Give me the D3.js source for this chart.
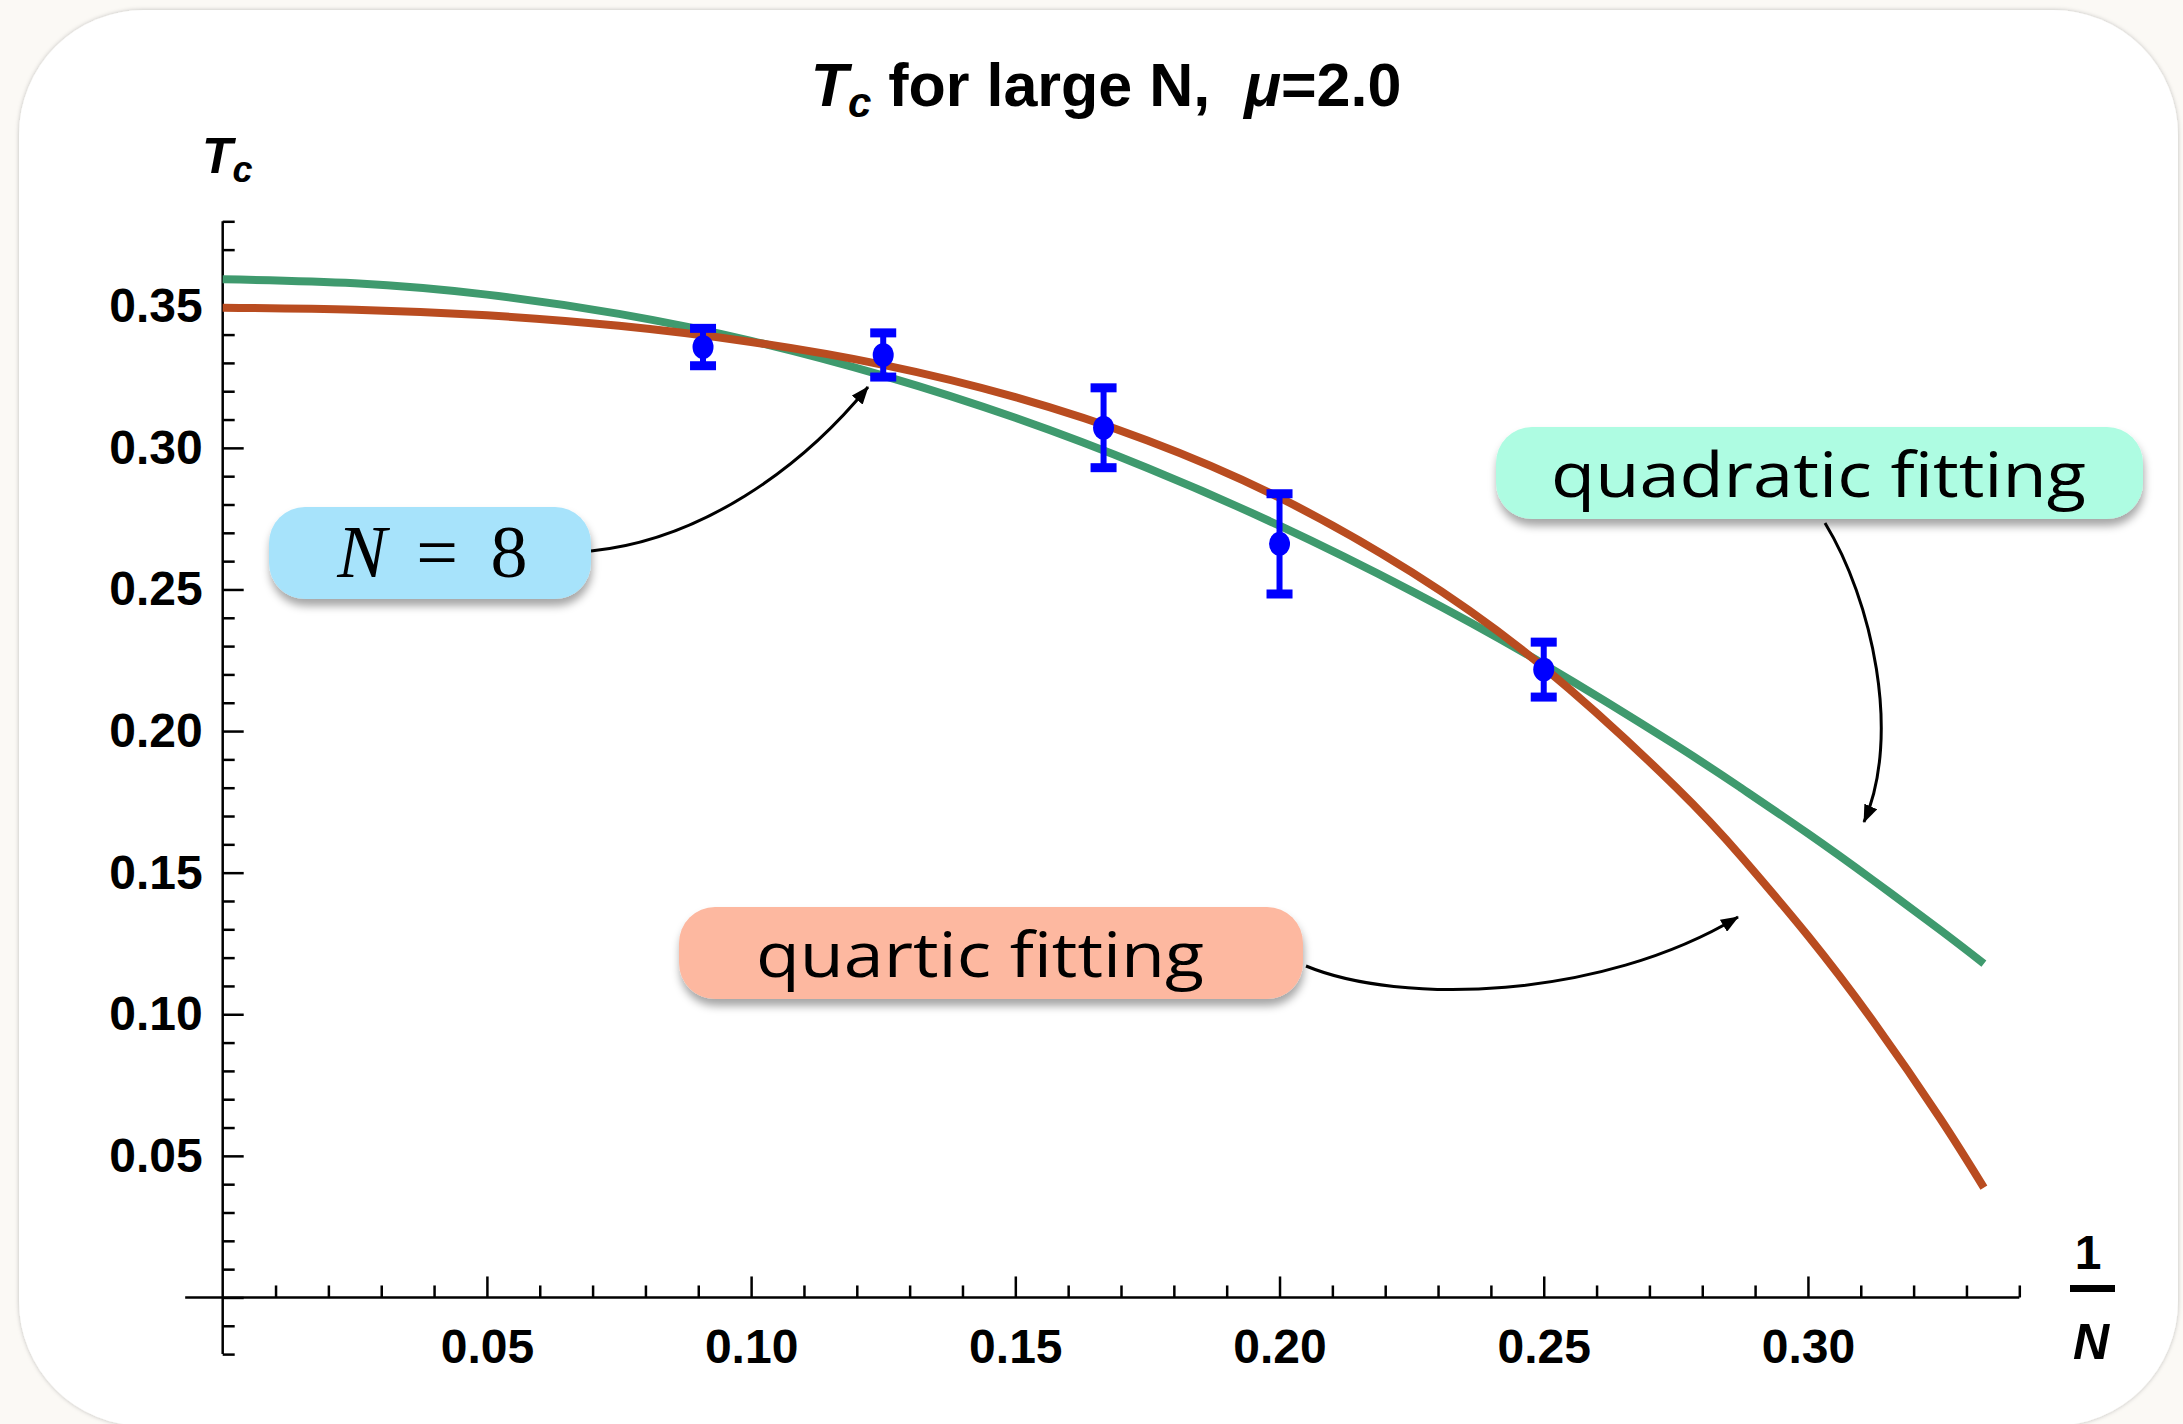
<!DOCTYPE html>
<html>
<head>
<meta charset="utf-8">
<script src="https://cdn.jsdelivr.net/npm/d3@7"></script>
<style>
  body { margin: 0; background: #fbf9f5; }
  svg { display: block; }
</style>
</head>
<body>
<div class="chart"></div>
<script>
const W = 2183;
const H = 1424;

// data points (x = 1/N for N = 11, 8, 6, 5, 4)
const invN = [0.0909, 0.125, 0.1667, 0.2, 0.25];
const tcVals = [0.3356, 0.3328, 0.3071, 0.2661, 0.2217];
const tcErr = [0.0066, 0.0078, 0.0141, 0.0177, 0.0097];

// fitted curves
const fitX = [0, 0.025, 0.05, 0.075, 0.1, 0.125, 0.15, 0.175, 0.2, 0.225, 0.25, 0.275, 0.2875, 0.3, 0.3125, 0.325, 0.3333];
const quadFit = [0.3595, 0.3581, 0.3541, 0.3473, 0.3378, 0.3255, 0.3106, 0.2929, 0.2725, 0.2494, 0.2236, 0.1950, 0.1797, 0.1638, 0.1471, 0.1298, 0.1179];
const quartFit = [0.3495, 0.3488, 0.3468, 0.3431, 0.3374, 0.3293, 0.3179, 0.3026, 0.2824, 0.2561, 0.2225, 0.1802, 0.1554, 0.1277, 0.0971, 0.0633, 0.0388];

const xMajor = [0.05, 0.10, 0.15, 0.20, 0.25, 0.30];
const yMajor = [0, 0.05, 0.10, 0.15, 0.20, 0.25, 0.30, 0.35];

const green = '#3f9a6e';
const orange = '#b94c20';

const svg = d3.select('.chart').append('svg')
    .attr('width', W)
    .attr('height', H)

const defs = svg.append('defs')

const panelShadow = defs.append('filter').attr('id', 'panelShadow')
    .attr('x', '-5%').attr('y', '-5%').attr('width', '110%').attr('height', '110%')
panelShadow.append('feDropShadow')
    .attr('dx', 0).attr('dy', 0).attr('stdDeviation', 2)
    .attr('flood-color', '#000').attr('flood-opacity', 0.25)

const boxShadow = defs.append('filter').attr('id', 'boxShadow')
    .attr('x', '-10%').attr('y', '-20%').attr('width', '120%').attr('height', '150%')
boxShadow.append('feDropShadow')
    .attr('dx', 1).attr('dy', 7).attr('stdDeviation', 4)
    .attr('flood-color', '#000').attr('flood-opacity', 0.35)

defs.append('marker')
    .attr('id', 'head')
    .attr('viewBox', '0 0 18 14')
    .attr('refX', 17).attr('refY', 7)
    .attr('markerWidth', 18).attr('markerHeight', 14)
    .attr('markerUnits', 'userSpaceOnUse')
    .attr('orient', 'auto')
    .append('path')
    .attr('d', 'M0,0 L18,7 L0,14 Z')
    .attr('fill', '#000')

// white rounded panel
svg.append('rect')
    .attr('x', 19).attr('y', 10)
    .attr('width', 2159).attr('height', 1416)
    .attr('rx', 125)
    .attr('fill', '#fff')
    .attr('filter', 'url(#panelShadow)')

// scales
const xScale = d3.scaleLinear()
    .domain([0, 0.34])
    .range([222.7, 2019.3])

const yScale = d3.scaleLinear()
    .domain([-0.02, 0.38])
    .range([1354.1, 221.3])

const fontBold = 'Liberation Sans, Arial, Helvetica, sans-serif';

// y axis
const yAxisG = svg.append('g').attr('transform', 'translate(' + xScale(0) + ',0)')
yAxisG.append('line')
    .attr('y1', yScale(-0.02)).attr('y2', yScale(0.38))
    .attr('stroke', '#000').attr('stroke-width', 2.5)

const yMinorTicks = d3.range(-2, 39).map(d => d / 100).filter(d => Math.round(d * 100) % 5 !== 0)
yAxisG.append('g')
    .call(d3.axisLeft(yScale).tickValues(yMinorTicks).tickSizeInner(-12).tickSizeOuter(0).tickFormat(''))
    .call(g => g.select('.domain').remove())
    .call(g => g.selectAll('line').attr('stroke-width', 2.5))

yAxisG.append('g')
    .call(d3.axisLeft(yScale).tickValues(yMajor).tickSizeInner(-21).tickSizeOuter(0).tickPadding(20)
        .tickFormat(d => d === 0 ? '' : d3.format('.2f')(d)))
    .call(g => g.select('.domain').remove())
    .call(g => g.selectAll('line').attr('stroke-width', 2.5))
    .call(g => g.selectAll('text')
        .attr('font-family', fontBold).attr('font-weight', 'bold').attr('font-size', 48).attr('fill', '#000'))

// x axis
const xAxisG = svg.append('g').attr('transform', 'translate(0,' + yScale(0) + ')')
xAxisG.append('line')
    .attr('x1', xScale(-0.0071)).attr('x2', xScale(0.34))
    .attr('stroke', '#000').attr('stroke-width', 2.5)

const xMinorTicks = d3.range(1, 35).map(d => d / 100).filter(d => Math.round(d * 100) % 5 !== 0)
xAxisG.append('g')
    .call(d3.axisBottom(xScale).tickValues(xMinorTicks).tickSizeInner(-12).tickSizeOuter(0).tickFormat(''))
    .call(g => g.select('.domain').remove())
    .call(g => g.selectAll('line').attr('stroke-width', 2.5))

xAxisG.append('g')
    .call(d3.axisBottom(xScale).tickValues(xMajor).tickSizeInner(-21).tickSizeOuter(0).tickPadding(31)
        .tickFormat(d3.format('.2f')))
    .call(g => g.select('.domain').remove())
    .call(g => g.selectAll('line').attr('stroke-width', 2.5))
    .call(g => g.selectAll('text')
        .attr('font-family', fontBold).attr('font-weight', 'bold').attr('font-size', 48).attr('fill', '#000'))

// fit curves
const line = d3.line()
    .x(d => xScale(d[0]))
    .y(d => yScale(d[1]))
    .curve(d3.curveNatural)

svg.append('path')
    .datum(fitX.map((x, i) => [x, quadFit[i]]))
    .attr('d', line)
    .attr('fill', 'none')
    .attr('stroke', green)
    .attr('stroke-width', 8)

svg.append('path')
    .datum(fitX.map((x, i) => [x, quartFit[i]]))
    .attr('d', line)
    .attr('fill', 'none')
    .attr('stroke', orange)
    .attr('stroke-width', 8)

// error bars
const pts = invN.map((x, i) => ({x: x, y: tcVals[i], e: tcErr[i]}))
const bars = svg.append('g').selectAll('g')
    .data(pts)
    .enter().append('g')

bars.append('line')
    .attr('x1', d => xScale(d.x)).attr('x2', d => xScale(d.x))
    .attr('y1', d => yScale(d.y - d.e)).attr('y2', d => yScale(d.y + d.e))
    .attr('stroke', '#0000ff').attr('stroke-width', 6)

bars.append('rect')
    .attr('x', d => xScale(d.x) - 13).attr('width', 26)
    .attr('y', d => yScale(d.y + d.e) - 4.5).attr('height', 9)
    .attr('fill', '#0000ff')

bars.append('rect')
    .attr('x', d => xScale(d.x) - 13).attr('width', 26)
    .attr('y', d => yScale(d.y - d.e) - 4.5).attr('height', 9)
    .attr('fill', '#0000ff')

bars.append('ellipse')
    .attr('cx', d => xScale(d.x)).attr('cy', d => yScale(d.y))
    .attr('rx', 10.5).attr('ry', 12)
    .attr('fill', '#0000ff')

// title
const title = svg.append('text')
    .attr('x', 1106).attr('y', 106)
    .attr('text-anchor', 'middle')
    .attr('font-family', fontBold).attr('font-weight', 'bold').attr('font-size', 61)
    .style('white-space', 'pre')
title.append('tspan').attr('font-style', 'italic').text('T')
title.append('tspan').attr('font-style', 'italic').attr('font-size', 42).attr('dy', 11).text('c')
title.append('tspan').attr('dy', -11).text(' for large N,  ')
title.append('tspan').attr('font-style', 'italic').text('μ')
title.append('tspan').text('=2.0')

// axis labels
const yLab = svg.append('text')
    .attr('x', 202).attr('y', 173)
    .attr('font-family', fontBold).attr('font-weight', 'bold').attr('font-style', 'italic').attr('font-size', 50)
yLab.append('tspan').text('T')
yLab.append('tspan').attr('font-size', 36).attr('dy', 9).text('c')

svg.append('text')
    .attr('x', 2088).attr('y', 1269)
    .attr('text-anchor', 'middle')
    .attr('font-family', fontBold).attr('font-weight', 'bold').attr('font-size', 48)
    .text('1')
svg.append('rect')
    .attr('x', 2070).attr('y', 1285).attr('width', 45).attr('height', 7)
    .attr('fill', '#000')
svg.append('text')
    .attr('x', 2091).attr('y', 1359)
    .attr('text-anchor', 'middle')
    .attr('font-family', fontBold).attr('font-weight', 'bold').attr('font-style', 'italic').attr('font-size', 50)
    .text('N')

// callout arrows
const arrows = [
    'M591,551 C700,540 800,470 868,387',
    'M1825,523 C1872,600 1902,735 1864,822',
    'M1306,966 C1400,1005 1600,1000 1738,917'
]
svg.append('g').selectAll('path')
    .data(arrows)
    .enter().append('path')
    .attr('d', d => d)
    .attr('fill', 'none')
    .attr('stroke', '#000')
    .attr('stroke-width', 3)
    .attr('marker-end', 'url(#head)')

// callout boxes
const boxes = [
    {x: 269, y: 507, w: 322, h: 92, fill: '#a7e3fb'},
    {x: 1496, y: 427, w: 647, h: 92, fill: '#aefce2'},
    {x: 679, y: 907, w: 624, h: 92, fill: '#fdb8a0'}
]
svg.append('g').selectAll('rect')
    .data(boxes)
    .enter().append('rect')
    .attr('x', d => d.x).attr('y', d => d.y)
    .attr('width', d => d.w).attr('height', d => d.h)
    .attr('rx', 36)
    .attr('fill', d => d.fill)
    .attr('filter', 'url(#boxShadow)')

// N = 8
const serif = 'Liberation Serif, Times New Roman, serif';
svg.append('text').attr('x', 362).attr('y', 577).attr('text-anchor', 'middle')
    .attr('font-family', serif).attr('font-style', 'italic').attr('font-size', 74).text('N')
svg.append('text').attr('x', 437).attr('y', 577).attr('text-anchor', 'middle')
    .attr('font-family', serif).attr('font-size', 74).text('=')
svg.append('text').attr('x', 509).attr('y', 577).attr('text-anchor', 'middle')
    .attr('font-family', serif).attr('font-size', 74).text('8')

const sans = 'Open Sans, Noto Sans, sans-serif';
svg.append('text')
    .attr('x', 1551).attr('y', 497)
    .attr('font-family', sans).attr('font-size', 63)
    .attr('textLength', 535).attr('lengthAdjust', 'spacingAndGlyphs')
    .text('quadratic fitting')

svg.append('text')
    .attr('x', 756).attr('y', 977)
    .attr('font-family', sans).attr('font-size', 63)
    .attr('textLength', 448).attr('lengthAdjust', 'spacingAndGlyphs')
    .text('quartic fitting')
</script>
</body>
</html>
